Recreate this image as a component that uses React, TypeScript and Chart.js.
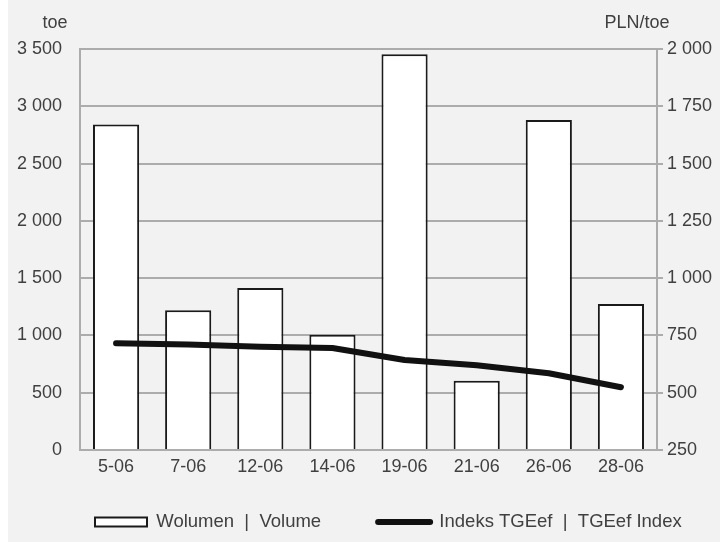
import React, { useEffect, useRef } from 'react';
import { Chart, registerables } from 'chart.js';

Chart.register(...registerables);

// ---- data ----
const categories = ['5-06', '7-06', '12-06', '14-06', '19-06', '21-06', '26-06', '28-06'];
const volumeValues = [2840, 1220, 1415, 1005, 3455, 605, 2880, 1275];
const indexValues = [716, 710, 701, 695, 643, 620, 585, 524];
const volumeLabel = 'Wolumen  |  Volume';
const indexLabel = 'Indeks TGEef  |  TGEef Index';
const leftAxisTitle = 'toe';
const rightAxisTitle = 'PLN/toe';
const leftAxisRange = [0, 3500, 500];
const rightAxisRange = [250, 2000, 250];

const TEXT = '#404040';
const GRID = '#acacac';
const FONT = '"Liberation Sans", Arial, sans-serif';

const fmt = (v: number | string) => String(v).replace(/\B(?=(\d{3})+(?!\d))/g, ' ');

const axisTitlesPlugin = {
  id: 'axisTitles',
  afterDraw(chart: any) {
    const { ctx, chartArea } = chart;
    ctx.save();
    ctx.font = `18px ${FONT}`;
    ctx.fillStyle = TEXT;
    ctx.textAlign = 'center';
    ctx.textBaseline = 'middle';
    ctx.fillText(leftAxisTitle, chartArea.left - 25, chartArea.top - 26);
    ctx.fillText(rightAxisTitle, chartArea.right - 20, chartArea.top - 26);
    ctx.restore();
  },
};

const legendShiftPlugin = {
  id: 'legendShift',
  afterLayout(chart: any) {
    const lg = chart.legend;
    if (!lg || !lg.lineWidths) return;
    const padding = lg.options.labels.padding;
    const start = (lg.left + padding + lg.right - lg.lineWidths[0]) / 2;
    const target = chart.chartArea.left + 15;
    const dx = target - start;
    lg.left += dx;
    lg.right += dx;
    // vertical: item centre = top + padding + itemHeight/2
    const fontSize = lg.options.labels.font.size;
    const targetCentre = chart.chartArea.bottom + 72;
    const dy = targetCentre - (lg.top + padding + fontSize / 2);
    lg.top += dy;
    lg.height -= dy;
  },
};

export default function App() {
  const ref = useRef<HTMLCanvasElement>(null);

  useEffect(() => {
    if (!ref.current) return;
    const chart = new Chart(ref.current, {
      type: 'bar',
      data: {
        labels: categories,
        datasets: [
          {
            type: 'line',
            label: indexLabel,
            data: indexValues,
            yAxisID: 'y1',
            borderColor: '#111111',
            backgroundColor: '#111111',
            borderWidth: 6,
            borderCapStyle: 'round',
            borderJoinStyle: 'round',
            pointRadius: 0,
            tension: 0,
            order: 0,
          } as any,
          {
            type: 'bar',
            label: volumeLabel,
            data: volumeValues,
            yAxisID: 'y',
            backgroundColor: '#ffffff',
            borderColor: '#1a1a1a',
            borderWidth: 2,
            categoryPercentage: 1,
            barPercentage: 0.64,
            order: 1,
          } as any,
        ],
      },
      options: {
        responsive: false,
        animation: false,
        devicePixelRatio: 1,
        layout: { padding: { top: 49, left: 0, right: 0, bottom: 0 } },
        font: { family: FONT, size: 18 },
        color: TEXT,
        plugins: {
          title: { display: false },
          tooltip: { enabled: false },
          legend: {
            display: true,
            position: 'bottom',
            align: 'center',
            maxHeight: 62,
            labels: {
              usePointStyle: true,
              pointStyleWidth: 52,
              boxHeight: 9,
              padding: 57,
              color: TEXT,
              font: { family: FONT, size: 18.5 },
              generateLabels: () => [
                {
                  text: volumeLabel,
                  fillStyle: '#ffffff',
                  strokeStyle: '#1a1a1a',
                  lineWidth: 2,
                  pointStyle: 'rect',
                  datasetIndex: 1,
                  hidden: false,
                  fontColor: TEXT,
                },
                {
                  text: indexLabel,
                  fillStyle: '#111111',
                  strokeStyle: '#111111',
                  lineWidth: 6,
                  lineCap: 'round',
                  pointStyle: 'line',
                  datasetIndex: 0,
                  hidden: false,
                  fontColor: TEXT,
                },
              ],
            },
          } as any,
        },
        scales: {
          x: {
            grid: { display: false, drawTicks: false },
            border: { display: true, color: GRID, width: 2 },
            ticks: { color: TEXT, padding: 6, font: { family: FONT, size: 18 }, maxRotation: 0, autoSkip: false },
            afterFit: (s: any) => { s.height = 30; },
          },
          y: {
            position: 'left',
            min: leftAxisRange[0],
            max: leftAxisRange[1],
            grid: { color: GRID, lineWidth: 2, drawTicks: false },
            border: { display: true, color: GRID, width: 2 },
            ticks: {
              stepSize: leftAxisRange[2],
              padding: 18,
              color: TEXT,
              font: { family: FONT, size: 18 },
              callback: (v: any) => fmt(v),
            },
            afterFit: (s: any) => { s.width = 72; },
          },
          y1: {
            position: 'right',
            min: rightAxisRange[0],
            max: rightAxisRange[1],
            grid: { color: GRID, lineWidth: 2, drawOnChartArea: false, drawTicks: true, tickLength: 6 },
            border: { display: true, color: GRID, width: 2 },
            ticks: {
              stepSize: rightAxisRange[2],
              padding: 4,
              color: TEXT,
              font: { family: FONT, size: 18 },
              callback: (v: any) => fmt(v),
            },
            afterFit: (s: any) => { s.width = 63; },
          },
        },
      } as any,
      plugins: [axisTitlesPlugin, legendShiftPlugin],
    });
    return () => chart.destroy();
  }, []);

  return (
    <canvas
      ref={ref}
      width={712}
      height={542}
      style={{ position: 'absolute', left: 8, top: 0, width: 712, height: 542, background: '#f2f2f2', display: 'block' }}
    />
  );
}
